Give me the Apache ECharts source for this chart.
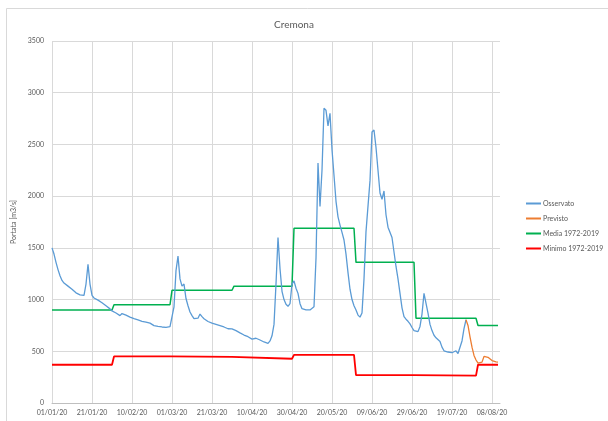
<!DOCTYPE html>
<html><head><meta charset="utf-8">
<script src="https://cdn.jsdelivr.net/npm/echarts@6/dist/echarts.min.js"></script>
<style>html,body{margin:0;padding:0;background:#fff}#c{width:608px;height:421px}</style>
</head><body><div id="c"></div>
<script>
// x: days since 01/01/20
const xTickLabels = ['01/01/20','21/01/20','10/02/20','01/03/20','21/03/20','10/04/20','30/04/20','20/05/20','09/06/20','29/06/20','19/07/20','08/08/20'];
const yTicks = [0,500,1000,1500,2000,2500,3000,3500];

const obsDays = [0,1,2,3,4,5,6,7,8,9,10,11,12,13,14,15,16,17,18,19,20,21,22,23,24,25,26,27,28,29,30,31,32,33,34,35,36,37,38,39,40,41,42,43,44,45,46,47,48,49,50,51,52,53,54,55,56,57,58,59,60,61,62,63,64,65,66,67,68,69,70,71,72,73,74,75,76,77,78,79,80,81,82,83,84,85,86,87,88,89,90,91,92,93,94,95,96,97,98,99,100,101,102,103,104,105,106,107,108,109,110,111,112,113,114,115,116,117,118,119,120,121,122,123,124,125,126,127,128,129,130,131,132,133,134,135,136,137,138,139,140,141,142,143,144,145,146,147,148,149,150,151,152,153,154,155,156,157,158,159,160,161,162,163,164,165,166,167,168,169,170,171,172,173,174,175,176,177,178,179,180,181,182,183,184,185,186,187,188,189,190,191,192,193,194,195,196,197,198,199,200,201,202,203,204,205,206,207];
const obsFlow = [1500,1440,1360,1290,1230,1185,1160,1145,1130,1115,1100,1085,1065,1050,1045,1045,1040,1150,1340,1150,1040,1015,1005,995,985,970,955,940,925,910,890,880,870,860,845,865,860,850,840,830,820,815,808,803,797,790,786,782,777,772,760,748,742,740,738,735,733,732,735,738,740,930,1280,1420,1200,1130,1150,1010,940,880,845,815,800,820,860,835,815,800,788,780,772,766,760,753,748,743,735,725,718,713,716,722,700,690,678,665,657,650,641,630,618,612,626,618,609,598,590,578,577,600,650,760,1150,1600,1300,1080,1000,955,935,960,1150,1180,1110,1060,960,912,906,900,890,900,910,930,1400,2320,1900,2250,2850,2830,2680,2800,2450,2200,1950,1800,1720,1650,1576,1440,1260,1100,1000,940,899,850,830,870,1200,1657,1640,2150,2620,2640,2470,2250,2030,1970,2050,1820,1700,1700,1600,1460,1320,1200,1060,920,835,810,790,765,730,700,685,690,740,860,1060,1050,870,760,700,655,630,615,595,540,505,497,493,487,486,486,505,478,490,600,720,805];

const prevDays = [207,208,209,210,211,212,213,214,215,216,217,218,219,220,221,222,223];
const prevFlow = [805,750,640,540,460,416,385,367,395,450,455,442,425,410,400,398,396];

const monthStart = [0,31,60,91,121,152,182,213];
const monthEnd   = [30,59,90,120,151,181,212,223];
const mediaVals  = [900,950,1090,1130,1690,1360,820,750];
const minimoVals = [370,450,445,428,465,270,265,370];

function pairs(d,v){return d.map((x,i)=>[x,v[i]]);}
function steps(vals){const o=[];vals.forEach((v,i)=>{o.push([monthStart[i],v]);o.push([monthEnd[i],v]);});return o;}

const txt = '#595959';
const font = 'Lato';
const chart = echarts.init(document.getElementById('c'), null, {renderer:'canvas'});
chart.setOption({
  animation:false,
  backgroundColor:'#fff',
  textStyle:{fontFamily:font},
  title:{text:'Cremona',left:289,top:15,textAlign:'center',textStyle:{fontSize:10,fontWeight:'normal',color:txt,fontFamily:font}},
  graphic:[{type:'rect',shape:{x:6.5,y:8.5,width:700,height:500},style:{fill:'none',stroke:'#d9d9d9',lineWidth:1},silent:true}],
  legend:{orient:'vertical',left:526,top:200,itemGap:8,itemWidth:15,itemHeight:2,icon:'rect',padding:[0,0,0,0],
    textStyle:{fontSize:7,color:txt,fontFamily:font,padding:[0,0,0,-3]},
    data:['Osservato','Previsto','Media 1972-2019','Minimo 1972-2019']},
  grid:{left:52,right:108,top:41,bottom:18,containLabel:false},
  xAxis:{type:'value',min:0,max:224,interval:20,
    axisLine:{show:true,lineStyle:{color:'#bfbfbf',width:1}},
    axisTick:{show:false},
    splitLine:{show:true,showMaxLine:false,lineStyle:{color:'#d9d9d9',width:1}},
    axisLabel:{fontSize:7,color:txt,margin:6,fontFamily:font,showMaxLabel:false,
      formatter:v=>(v%20===0 && xTickLabels[v/20]!==undefined)?xTickLabels[v/20]:''}},
  yAxis:{type:'value',min:yTicks[0],max:yTicks[yTicks.length-1],interval:500,
    name:'Portata [m3/s]',nameLocation:'middle',nameGap:21,nameRotate:90,
    nameTextStyle:{fontSize:7,color:txt,fontFamily:font},
    axisLine:{show:false},axisTick:{show:false},
    splitLine:{show:true,lineStyle:{color:'#d9d9d9',width:1}},
    axisLabel:{fontSize:7,color:txt,margin:8,fontFamily:font,formatter:v=>String(v)}},
  series:[
    {name:'Osservato',type:'line',symbol:'none',data:pairs(obsDays,obsFlow),lineStyle:{color:'#5B9BD5',width:1.3},itemStyle:{color:'#5B9BD5'},z:4},
    {name:'Previsto',type:'line',symbol:'none',data:pairs(prevDays,prevFlow),lineStyle:{color:'#ED7D31',width:1.3},itemStyle:{color:'#ED7D31'},z:4},
    {name:'Media 1972-2019',type:'line',symbol:'none',data:steps(mediaVals),lineStyle:{color:'#00B050',width:1.5},itemStyle:{color:'#00B050'},z:3},
    {name:'Minimo 1972-2019',type:'line',symbol:'none',data:steps(minimoVals),lineStyle:{color:'#FF0000',width:1.8},itemStyle:{color:'#FF0000'},z:3}
  ]
});
</script></body></html>
